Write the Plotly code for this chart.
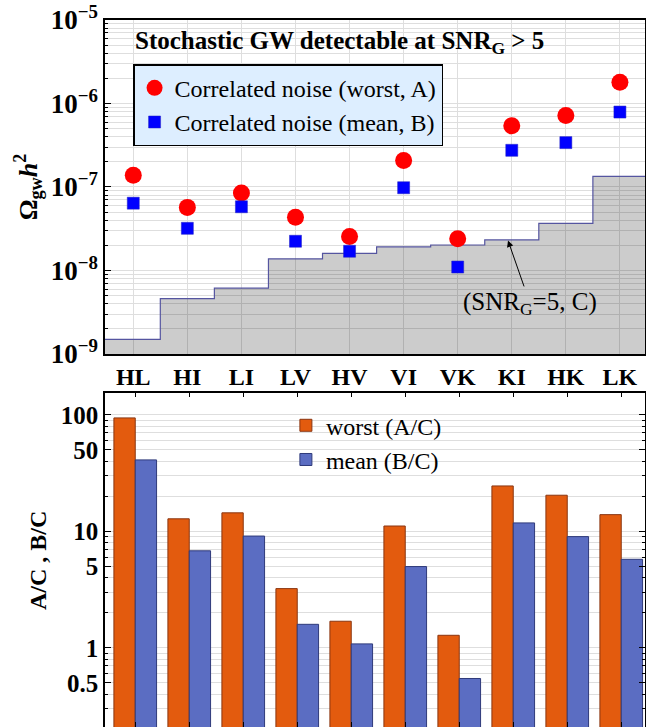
import plotly.graph_objects as go

# ---------------- data ----------------
pairs = ["HL", "HI", "LI", "LV", "HV", "VI", "VK", "KI", "HK", "LK"]
omega_worst = [1.38e-7, 5.7e-8, 8.5e-8, 4.35e-8, 2.55e-8, 2.08e-7, 2.4e-8, 5.4e-7, 7.2e-7, 1.8e-6]
omega_mean = [6.4e-8, 3.2e-8, 5.8e-8, 2.24e-8, 1.7e-8, 9.8e-8, 1.1e-8, 2.75e-7, 3.4e-7, 7.9e-7]
omega_snr5 = [1.5e-9, 4.6e-9, 6.15e-9, 1.38e-8, 1.6e-8, 1.92e-8, 2.02e-8, 2.32e-8, 3.67e-8, 1.34e-7]
ratio_worst = [94, 12.8, 14.4, 3.22, 1.69, 11.1, 1.28, 24.5, 20.4, 13.9]
ratio_mean = [41, 6.8, 9.1, 1.59, 1.08, 4.98, 0.545, 11.8, 9.0, 5.75]

top_major = [1e-9, 1e-8, 1e-7, 1e-6, 1e-5]
top_major_text = ["10<sup>−9</sup>", "10<sup>−8</sup>", "10<sup>−7</sup>", "10<sup>−6</sup>", "10<sup>−5</sup>"]
bot_major = [0.5, 1, 5, 10, 50, 100]
bot_major_text = ["0.5", "1", "5", "10", "50", "100"]

FONT = "Liberation Serif, Times New Roman, serif"
xpos = list(range(len(pairs)))

# minor tick values (log decades)
top_minor = [k * 10.0 ** e for e in range(-9, -5) for k in range(2, 10)]
bot_minor = [k * 10.0 ** e for e in range(-1, 3) for k in range(1, 10) if k * 10.0 ** e not in bot_major]

# step polygon for SNR=5 curve
n = len(pairs)
floor_val = 1e-10
sx, sy = [], []
for i, c in enumerate(omega_snr5):
    left = i - 0.5 if i > 0 else -1
    right = i + 0.5 if i < n - 1 else n
    sx += [left, right]
    sy += [c, c]
sx += [n, -1]
sy += [floor_val, floor_val]

fig = go.Figure()

fig.add_trace(go.Scatter(
    x=sx, y=sy, mode="lines", fill="toself",
    fillcolor="rgba(0,0,0,0.2)", line=dict(color="#5555A0", width=1.2),
    showlegend=False, hoverinfo="skip", xaxis="x", yaxis="y"))

fig.add_trace(go.Scatter(
    x=xpos, y=omega_worst, mode="markers", name="Correlated noise (worst, A)",
    marker=dict(symbol="circle", size=17, color="#FF0000"),
    xaxis="x", yaxis="y", legend="legend"))
fig.add_trace(go.Scatter(
    x=xpos, y=omega_mean, mode="markers", name="Correlated noise (mean, B)",
    marker=dict(symbol="square", size=12, color="#0000FF", line=dict(color="#2020C0", width=0.5)),
    xaxis="x", yaxis="y", legend="legend"))

fig.add_trace(go.Bar(
    x=xpos, y=ratio_worst, name="worst (A/C)",
    marker=dict(color="#E35B0E", line=dict(color="#8A3510", width=1)),
    xaxis="x2", yaxis="y2", legend="legend2"))
fig.add_trace(go.Bar(
    x=xpos, y=ratio_mean, name="mean (B/C)",
    marker=dict(color="#5B6DC2", line=dict(color="#2F3A7A", width=1)),
    xaxis="x2", yaxis="y2", legend="legend2"))

grid = "#DEDEDE"
fig.update_layout(
    width=646, height=727,
    margin=dict(l=105, r=1, t=20, b=0),
    paper_bgcolor="white", plot_bgcolor="white",
    font=dict(family=FONT, color="black"),
    barmode="group", bargap=0.21, bargroupgap=0,
    xaxis=dict(
        domain=[0, 1], range=[-0.523, 9.464], anchor="y", automargin=False,
        tickvals=xpos, ticktext=pairs, ticks="",
        tickfont=dict(family=FONT, size=24, weight="bold"),
        showgrid=True, gridcolor=grid, gridwidth=1,
        showline=True, linecolor="black", linewidth=2, mirror=True,
        zeroline=False),
    yaxis=dict(
        domain=[0.5276, 1.0], type="log", range=[-9, -5], anchor="x", automargin=False,
        tickvals=top_major, ticktext=top_major_text,
        ticks="inside", ticklen=6, tickwidth=1, tickcolor="black",
        tickfont=dict(family=FONT, size=27, weight="bold"),
        showgrid=True, gridcolor=grid, gridwidth=1,
        minor=dict(tickvals=top_minor, ticks="inside", ticklen=3, tickcolor="black",
                   showgrid=True, gridcolor=grid, gridwidth=1),
        showline=True, linecolor="black", linewidth=1.5, mirror=True,
        title=dict(text="<b>Ω<sub>gw</sub><i>h</i><sup>2</sup></b>",
                   font=dict(family=FONT, size=26), standoff=6),
        zeroline=False),
    xaxis2=dict(
        domain=[0, 1], range=[-0.56, 9.44], anchor="y2", automargin=False,
        tickvals=xpos, showticklabels=False,
        ticks="inside", ticklen=5, tickcolor="black",
        showgrid=False, showline=True, linecolor="black", linewidth=1.5,
        mirror="allticks", zeroline=False),
    yaxis2=dict(
        domain=[0, 0.4729], type="log", range=[-0.68, 2.19], anchor="x2", automargin=False,
        tickvals=bot_major, ticktext=bot_major_text,
        ticks="inside", ticklen=6, tickwidth=1, tickcolor="black",
        tickfont=dict(family=FONT, size=25, weight="bold"),
        showgrid=True, gridcolor=grid, gridwidth=1,
        minor=dict(tickvals=bot_minor, ticks="inside", ticklen=3, tickcolor="black",
                   showgrid=True, gridcolor=grid, gridwidth=1),
        showline=True, linecolor="black", linewidth=1.5, mirror="allticks",
        zeroline=False),
    legend=dict(
        x=0.052, y=0.9375, xanchor="left", yanchor="top",
        bgcolor="#DDEEFF", bordercolor="black", borderwidth=1.5,
        font=dict(family=FONT, size=24), itemsizing="trace"),
    legend2=dict(
        x=0.335, y=0.458, xanchor="left", yanchor="top",
        bgcolor="rgba(0,0,0,0)", borderwidth=0,
        font=dict(family=FONT, size=24)),
    annotations=[
        dict(text="<b>Stochastic GW detectable at SNR<sub>G</sub> > 5</b>",
             xref="paper", yref="paper", x=0.052, y=0.9675,
             xanchor="left", yanchor="middle", showarrow=False,
             font=dict(family=FONT, size=25)),
        dict(text="(SNR<sub>G</sub>=5, C)",
             xref="x", yref="y", x=6.93, y=-7.64,
             ax=22, ay=63, showarrow=True, arrowhead=2, arrowsize=1.3,
             arrowwidth=1, arrowcolor="black",
             font=dict(family=FONT, size=25)),
        dict(text="<b>A/C , B/C</b>", textangle=-90,
             xref="paper", yref="paper", x=-0.124, y=0.2348,
             xanchor="center", yanchor="middle", showarrow=False,
             font=dict(family=FONT, size=24)),
    ],
)

fig.write_html("out.html",
               config={"displayModeBar": False},
               post_script="document.body.style.margin='0';document.body.style.overflow='hidden';")
